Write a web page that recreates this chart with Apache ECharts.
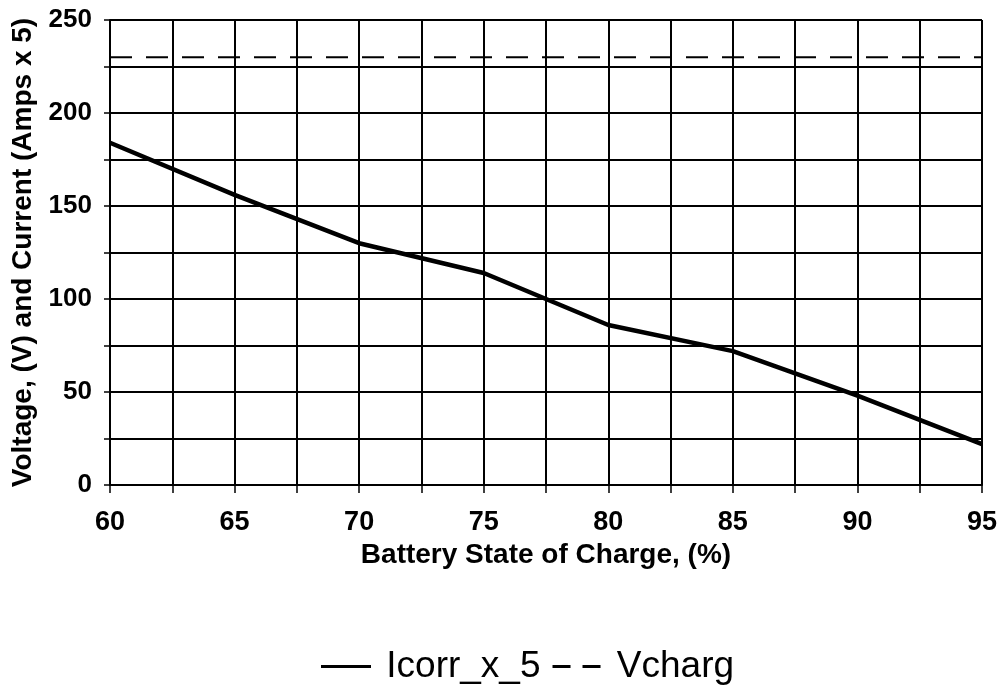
<!DOCTYPE html>
<html>
<head>
<meta charset="utf-8">
<script src="https://cdn.jsdelivr.net/npm/echarts@6/dist/echarts.min.js"></script>
<style>
html,body{margin:0;padding:0;background:#fff;}
#chart{width:1000px;height:696px;}
</style>
</head>
<body>
<div id="chart"></div>
<script>
// Battery state of charge (%)
const stateOfCharge = [60, 65, 70, 75, 80, 85, 90, 95];
// Icorr x 5 (current x 5)
const icorrX5 = [184, 156, 130, 114, 86, 72, 48, 22];
// Vcharg (constant charging voltage)
const vcharg = [230, 230, 230, 230, 230, 230, 230, 230];
const seriesNames = ['Icorr_x_5', 'Vcharg'];
const xAxisTitle = 'Battery State of Charge, (%)';
const yAxisTitle = 'Voltage, (V) and Current (Amps x 5)';

const chart = echarts.init(document.getElementById('chart'), null, {renderer: 'canvas'});
const font = 'Liberation Sans, Arial, Helvetica, sans-serif';
const pair = (xs, ys) => xs.map((x, i) => [x, ys[i]]);

chart.setOption({
  animation: false,
  backgroundColor: '#ffffff',
  grid: {left: 110, right: 13, top: 20, bottom: 211, containLabel: false},
  legend: {
    show: true,
    bottom: 6,
    left: 316,
    itemWidth: 50,
    itemHeight: 3,
    itemGap: 12,
    formatter: name => ' ' + name,
    textStyle: {fontFamily: font, fontSize: 37, color: '#000'},
    data: [
      {name: seriesNames[0], icon: 'path://M0,0H50V3H0Z', itemStyle: {color: '#000'}},
      {name: seriesNames[1], icon: 'path://M0,0H18V3H0Z M30,0H48V3H30Z', itemStyle: {color: '#000'}}
    ]
  },
  xAxis: {
    type: 'value',
    min: 60, max: 95, interval: 2.5,
    name: xAxisTitle,
    nameLocation: 'middle',
    nameGap: 53,
    nameTextStyle: {fontFamily: font, fontSize: 28, fontWeight: 'bold', color: '#000'},
    axisLine: {show: true, lineStyle: {color: '#000', width: 2}},
    axisTick: {show: true, inside: false, length: 8, lineStyle: {color: '#000', width: 1.5}},
    axisLabel: {
      fontFamily: font, fontSize: 27, fontWeight: 'bold', color: '#000', margin: 24,
      formatter: v => (v % 5 === 0 ? String(v) : '')
    },
    splitLine: {show: true, lineStyle: {color: '#000', width: 2}}
  },
  yAxis: {
    type: 'value',
    min: 0, max: 250, interval: 25,
    name: yAxisTitle,
    nameLocation: 'middle',
    nameGap: 72,
    nameRotate: 90,
    nameTextStyle: {fontFamily: font, fontSize: 28, fontWeight: 'bold', color: '#000'},
    axisLine: {show: true, lineStyle: {color: '#000', width: 2}},
    axisTick: {show: true, inside: false, length: 6, lineStyle: {color: '#000', width: 1.5}},
    axisLabel: {
      fontFamily: font, fontSize: 26, fontWeight: 'bold', color: '#000', margin: 18,
      formatter: v => (v % 50 === 0 ? String(v) : '')
    },
    splitLine: {show: true, lineStyle: {color: '#000', width: 2}}
  },
  series: [
    {
      name: seriesNames[0],
      type: 'line',
      data: pair(stateOfCharge, icorrX5),
      showSymbol: false,
      symbol: 'none',
      lineStyle: {color: '#000', width: 4.5, type: 'solid'},
      itemStyle: {color: '#000'}
    },
    {
      name: seriesNames[1],
      type: 'line',
      data: pair(stateOfCharge, vcharg),
      showSymbol: false,
      symbol: 'none',
      lineStyle: {color: '#000', width: 2, type: [22, 14]},
      itemStyle: {color: '#000'}
    }
  ]
});
</script>
</body>
</html>
